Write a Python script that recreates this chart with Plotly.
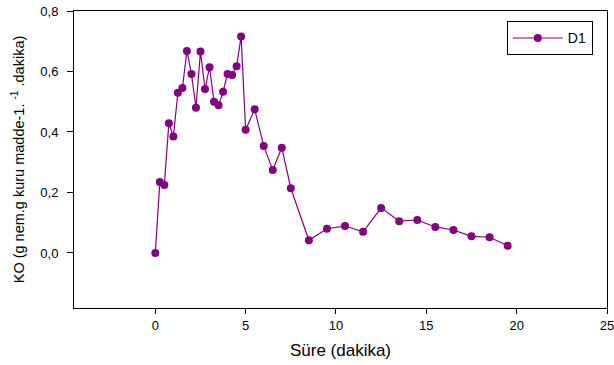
import plotly.graph_objects as go

sure = [0, 0.25, 0.5, 0.75, 1.0, 1.25, 1.5, 1.75, 2.0, 2.25, 2.5, 2.75, 3.0, 3.25, 3.5,
        3.75, 4.0, 4.25, 4.5, 4.75, 5.0, 5.5, 6.0, 6.5, 7.0, 7.5,
        8.5, 9.5, 10.5, 11.5, 12.5, 13.5, 14.5, 15.5, 16.5, 17.5, 18.5, 19.5]
ko = [0.0, 0.235, 0.225, 0.429, 0.385, 0.530, 0.545, 0.668, 0.592, 0.480, 0.666, 0.542,
      0.614, 0.500, 0.488, 0.533, 0.592, 0.588, 0.617, 0.716, 0.407, 0.475, 0.354, 0.274,
      0.348, 0.214, 0.042, 0.080, 0.089, 0.070, 0.149, 0.105, 0.109, 0.086, 0.076, 0.055,
      0.052, 0.024]
x_ticks = [0, 5, 10, 15, 20, 25]
y_ticks = [0.0, 0.2, 0.4, 0.6, 0.8]

fig = go.Figure()
fig.add_trace(go.Scatter(
    x=sure, y=ko, mode="lines+markers", name="D1",
    line=dict(color="#800080", width=1.2),
    marker=dict(color="#800080", size=8, symbol="circle"),
))

font_family = "Liberation Sans, Arial, sans-serif"
fig.update_layout(
    width=614, height=365,
    margin=dict(l=74, r=7, t=11, b=57),
    paper_bgcolor="white", plot_bgcolor="white",
    separators=",.",
    font=dict(family=font_family, size=13, color="black"),
    showlegend=True,
    legend=dict(x=0.812, y=0.965, xanchor="left", yanchor="top",
                bordercolor="black", borderwidth=1, bgcolor="white",
                font=dict(size=14), itemwidth=50),
    xaxis=dict(range=[-4.5, 25], tickvals=x_ticks, ticks="outside", ticklen=5,
               tickcolor="black", showline=True, linecolor="black", linewidth=1,
               mirror=True, showgrid=False, zeroline=False, automargin=False,
               ticklabeloverflow="allow",
               tickfont=dict(size=13),
               title=dict(text="Süre (dakika)", font=dict(size=17), standoff=12)),
    yaxis=dict(range=[-0.182, 0.8], tickvals=y_ticks, tickformat=".1f",
               ticks="outside", ticklen=6, tickcolor="black", ticklabelstandoff=6,
               showline=True, linecolor="black", linewidth=1, mirror=True,
               showgrid=False, zeroline=False, automargin=False,
               ticklabeloverflow="allow",
               tickfont=dict(size=13),
               title=dict(text="KO (g nem.g kuru madde-1. <sup>-1</sup> .dakika)",
                          font=dict(size=14.5), standoff=12)),
)

fig.write_html("out.html")
